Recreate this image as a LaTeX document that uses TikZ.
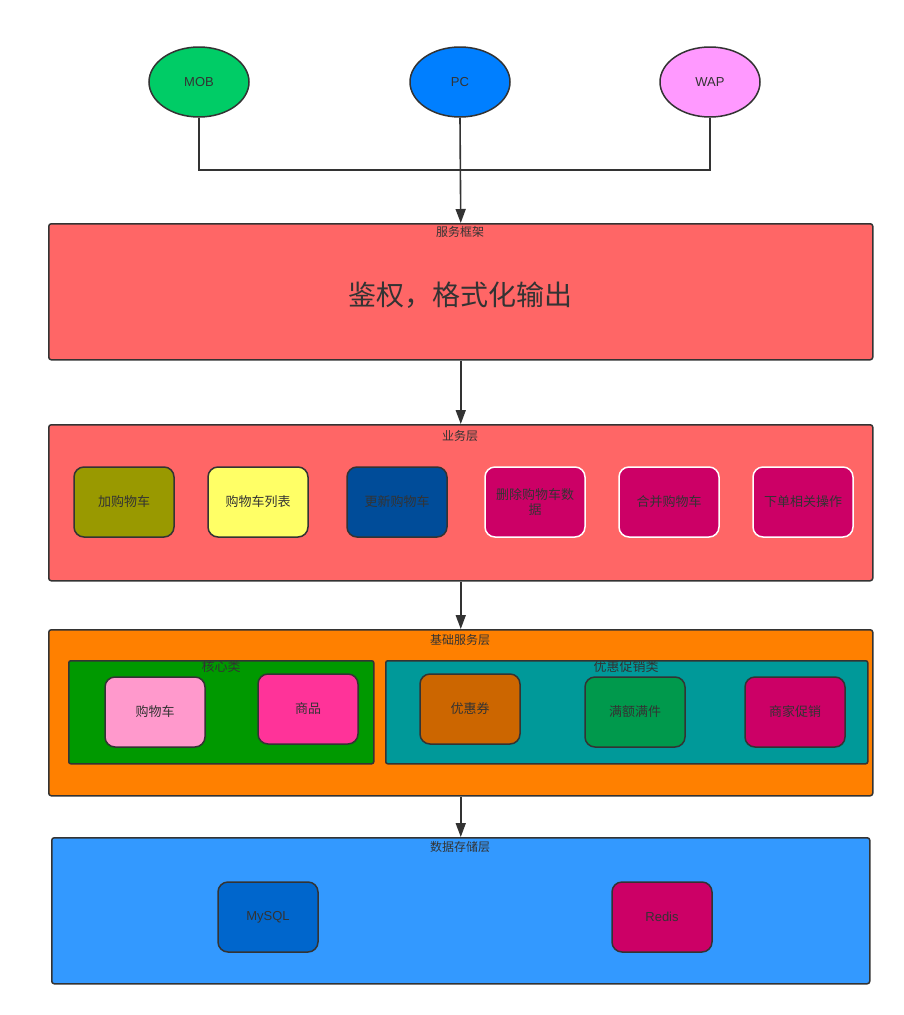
\documentclass[tikz,border=0pt]{standalone}
\usepackage{fontspec}
\setmainfont{Liberation Sans}
\newfontfamily\cjk{Noto Sans CJK SC}
\usetikzlibrary{arrows.meta,shapes.geometric}
\definecolor{txt}{HTML}{333333}
\definecolor{cMob}{HTML}{00CC66}
\definecolor{cPc}{HTML}{007FFF}
\definecolor{cWap}{HTML}{FF99FF}
\definecolor{cRed}{HTML}{FF6666}
\definecolor{cOlive}{HTML}{999900}
\definecolor{cYel}{HTML}{FFFF66}
\definecolor{cNavy}{HTML}{004C99}
\definecolor{cMag}{HTML}{CC0066}
\definecolor{cOra}{HTML}{FF8000}
\definecolor{cGrn}{HTML}{009900}
\definecolor{cTeal}{HTML}{009999}
\definecolor{cPink}{HTML}{FF99CC}
\definecolor{cHot}{HTML}{FF3399}
\definecolor{cBrown}{HTML}{CC6600}
\definecolor{cSea}{HTML}{00994C}
\definecolor{cSky}{HTML}{3399FF}
\definecolor{cBlue}{HTML}{0066CC}
\tikzset{
  client/.style={ellipse, draw=txt, line width=1.5pt, minimum width=100pt, minimum height=70pt, inner sep=0pt, text=txt, font=\fontsize{13}{15}\selectfont},
  layer/.style={draw=txt, line width=1.5pt, rounded corners=2.5pt, inner sep=0pt, anchor=north west},
  group/.style={draw=txt, line width=1.5pt, rounded corners=2pt, inner sep=0pt, anchor=north west},
  item/.style={draw=txt, line width=1.5pt, rounded corners=10pt, minimum width=100pt, minimum height=70pt, inner sep=2pt, text=txt, align=center, font=\cjk\fontsize{13}{15}\selectfont},
  witem/.style={item, draw=white},
  ttl/.style={text=txt, font=\cjk\fontsize{12}{14}\selectfont, inner sep=0pt},
  conn/.style={draw=txt, line width=1.6pt},
  arr/.style={conn, -{Triangle[length=14pt, width=10pt]}}
}
\begin{document}
\begin{tikzpicture}[x=1pt, y=-1pt]
\useasboundingbox[fill=white] (0,0) rectangle (904,1015);
% clients
\node[client, fill=cMob] (mob) at (199,82) {MOB};
\node[client, fill=cPc] (pc) at (460,82) {PC};
\node[client, fill=cWap] (wap) at (710,82) {WAP};
% layers
\node[layer, fill=cRed, minimum width=824pt, minimum height=136pt] (fw) at (48,223) {};
\node[ttl] (fwt) at (460,232) {服务框架};
\node[text=txt, font=\cjk\fontsize{28}{32}\selectfont] (fwm) at (460,295) {鉴权，格式化输出};
\node[layer, fill=cRed, minimum width=824pt, minimum height=156pt] (biz) at (48,424) {};
\node[ttl] (bizt) at (460,436) {业务层};
\node[layer, fill=cOra, minimum width=824pt, minimum height=166pt] (base) at (48,629) {};
\node[ttl] (baset) at (460,640) {基础服务层};
\node[layer, fill=cSky, minimum width=818pt, minimum height=146pt] (data) at (51,837) {};
\node[ttl] (datat) at (460,847) {数据存储层};
% business items
\node[item, fill=cOlive] (b1) at (124,502) {加购物车};
\node[item, fill=cYel] (b2) at (258,502) {购物车列表};
\node[item, fill=cNavy] (b3) at (397,502) {更新购物车};
\node[witem, fill=cMag] (b4) at (535,502) {删除购物车数\\据};
\node[witem, fill=cMag] (b5) at (669,502) {合并购物车};
\node[witem, fill=cMag] (b6) at (803,502) {下单相关操作};
% base groups
\node[group, fill=cGrn, minimum width=305pt, minimum height=103pt] (core) at (68,660) {};
\node[ttl, font=\cjk\fontsize{13}{15}\selectfont] (coret) at (221,667) {核心类};
\node[group, fill=cTeal, minimum width=482pt, minimum height=103pt] (promo) at (385,660) {};
\node[ttl, font=\cjk\fontsize{13}{15}\selectfont] (promot) at (626,667) {优惠促销类};
\node[item, fill=cPink] (c1) at (155,712) {购物车};
\node[item, fill=cHot] (c2) at (308,709) {商品};
\node[item, fill=cBrown] (p1) at (470,709) {优惠券};
\node[item, fill=cSea] (p2) at (635,712) {满额满件};
\node[item, fill=cMag] (p3) at (795,712) {商家促销};
% data items
\node[item, fill=cBlue, font=\fontsize{13}{15}\selectfont] (d1) at (268,917) {MySQL};
\node[item, fill=cMag, font=\fontsize{13}{15}\selectfont] (d2) at (662,917) {Redis};
% connectors
\coordinate (j) at (460,170);
\draw[conn] (mob.south) |- (j) -| (wap.south);
\draw[arr] (pc.south) -- (fw.north);
\draw[arr] (fw.south) -- (biz.north);
\draw[arr] (biz.south) -- (base.north);
\draw[arr] (base.south) -- (data.north);
\end{tikzpicture}
\end{document}
